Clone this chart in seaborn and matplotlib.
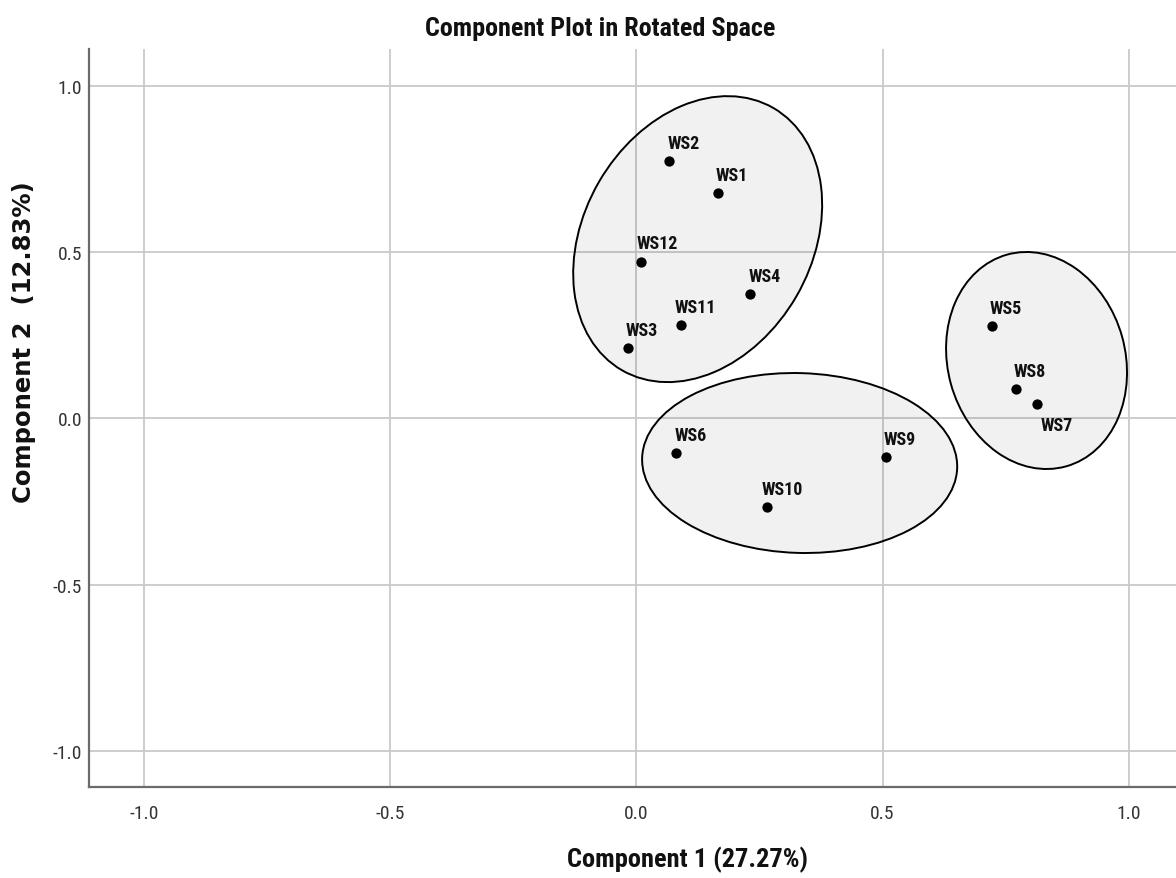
import matplotlib
matplotlib.use("Agg")
import matplotlib.pyplot as plt
from matplotlib import font_manager
from matplotlib.patches import Ellipse
from matplotlib.transforms import ScaledTranslation
import seaborn as sns
import pandas as pd

# Rotated component loadings for each item
items = ["WS1", "WS2", "WS3", "WS4", "WS5", "WS6",
         "WS7", "WS8", "WS9", "WS10", "WS11", "WS12"]
comp1 = [0.165, 0.067, -0.018, 0.231, 0.722, 0.081,
         0.813, 0.771, 0.506, 0.265, 0.090, 0.010]
comp2 = [0.679, 0.774, 0.211, 0.375, 0.279, -0.105,
         0.043, 0.090, -0.115, -0.267, 0.281, 0.472]

ticks = [-1.0, -0.5, 0.0, 0.5, 1.0]
tick_labels = ["-1.0", "-0.5", "0.0", "0.5", "1.0"]

title = "Component Plot in Rotated Space"
x_label = "Component 1 (27.27%)"
y_label = "Component 2  (12.83%)"

# Cluster outlines: centre in data units, semi-axes in pixels, tilt in degrees
cluster_centres = [(0.1244, 0.540), (0.3315, -0.134), (0.8126, 0.1746)]
cluster_semi_axes = [(151.4, 114.1), (157.6, 89.9), (109.9, 88.8)]
cluster_angles = [60.0, -1.85, 105.6]

# Label placement for each item (pixels from the marker, baseline anchored)
label_offsets = {name: (-2, 13) for name in items}
label_offsets["WS12"] = (-5, 14)
label_offsets["WS11"] = (-6, 13)
label_offsets["WS10"] = (-5, 13)
label_offsets["WS7"] = (4, -26)


def pick_family(candidates, default):
    names = {f.name for f in font_manager.fontManager.ttflist}
    for c in candidates:
        if c in names:
            return c
    return default


narrow = pick_family(["Liberation Sans Narrow", "Roboto Condensed",
                      "Open Sans Condensed", "Arial Narrow"], "Liberation Sans")

sns.set_theme(style="white")
plt.rcParams["font.family"] = [narrow, "DejaVu Sans"]

df = pd.DataFrame({"item": items, "c1": comp1, "c2": comp2})

fig = plt.figure(figsize=(11.76, 8.79), dpi=100)
ax = fig.add_axes([0.07568, 0.1032, 0.92432, 0.8399])

ax.set_xlim(-1.1117, 1.0958)
ax.set_ylim(-1.1102, 1.1123)

ax.set_xticks(ticks)
ax.set_xticklabels(tick_labels)
ax.set_yticks(ticks)
ax.set_yticklabels(tick_labels)
ax.tick_params(axis="both", length=0, labelsize=14, colors="#333333")
ax.tick_params(axis="x", pad=12)
ax.tick_params(axis="y", pad=5)

ax.grid(True, color="#c9c9c9", linewidth=1.3)
ax.set_axisbelow(True)

for side in ("top", "right"):
    ax.spines[side].set_visible(False)
for side in ("left", "bottom"):
    ax.spines[side].set_color("#6b6b6b")
    ax.spines[side].set_linewidth(1.6)

# Cluster ellipses drawn in pixel units around data-space centres
for (cx, cy), (a, b), ang in zip(cluster_centres, cluster_semi_axes, cluster_angles):
    tr = fig.dpi_scale_trans + ScaledTranslation(cx, cy, ax.transData)
    e = Ellipse((0, 0), width=2 * a / fig.dpi, height=2 * b / fig.dpi, angle=ang,
                transform=tr, facecolor="black", alpha=0.055,
                edgecolor="none", zorder=1)
    ax.add_patch(e)
    e2 = Ellipse((0, 0), width=2 * a / fig.dpi, height=2 * b / fig.dpi, angle=ang,
                 transform=tr, facecolor="none", edgecolor="black",
                 linewidth=1.4, zorder=2)
    ax.add_patch(e2)

sns.scatterplot(data=df, x="c1", y="c2", ax=ax, color="black",
                s=55, edgecolor="black", linewidth=0, zorder=3, legend=False)

for name, x, y in zip(items, comp1, comp2):
    dx, dy = label_offsets[name]
    ax.annotate(name, (x, y), xytext=(dx, dy), textcoords="offset pixels",
                ha="left", va="baseline", fontsize=13, fontweight="bold",
                color="#111111", zorder=4)

ax.set_xlabel("")
ax.set_ylabel("")

fig.text(0.5102, 0.9665, title, ha="center", va="center",
         fontsize=18.8, fontweight="bold", color="#111111")
fig.text(0.5842, 0.0215, x_label, ha="center", va="center",
         fontsize=19, fontweight="bold", color="#111111")
fig.text(0.0200, 0.611, y_label, ha="center", va="center", rotation=90,
         fontsize=17.5, fontweight="bold", color="#111111",
         family=["DejaVu Sans"])

fig.savefig("out.png", dpi=100)
